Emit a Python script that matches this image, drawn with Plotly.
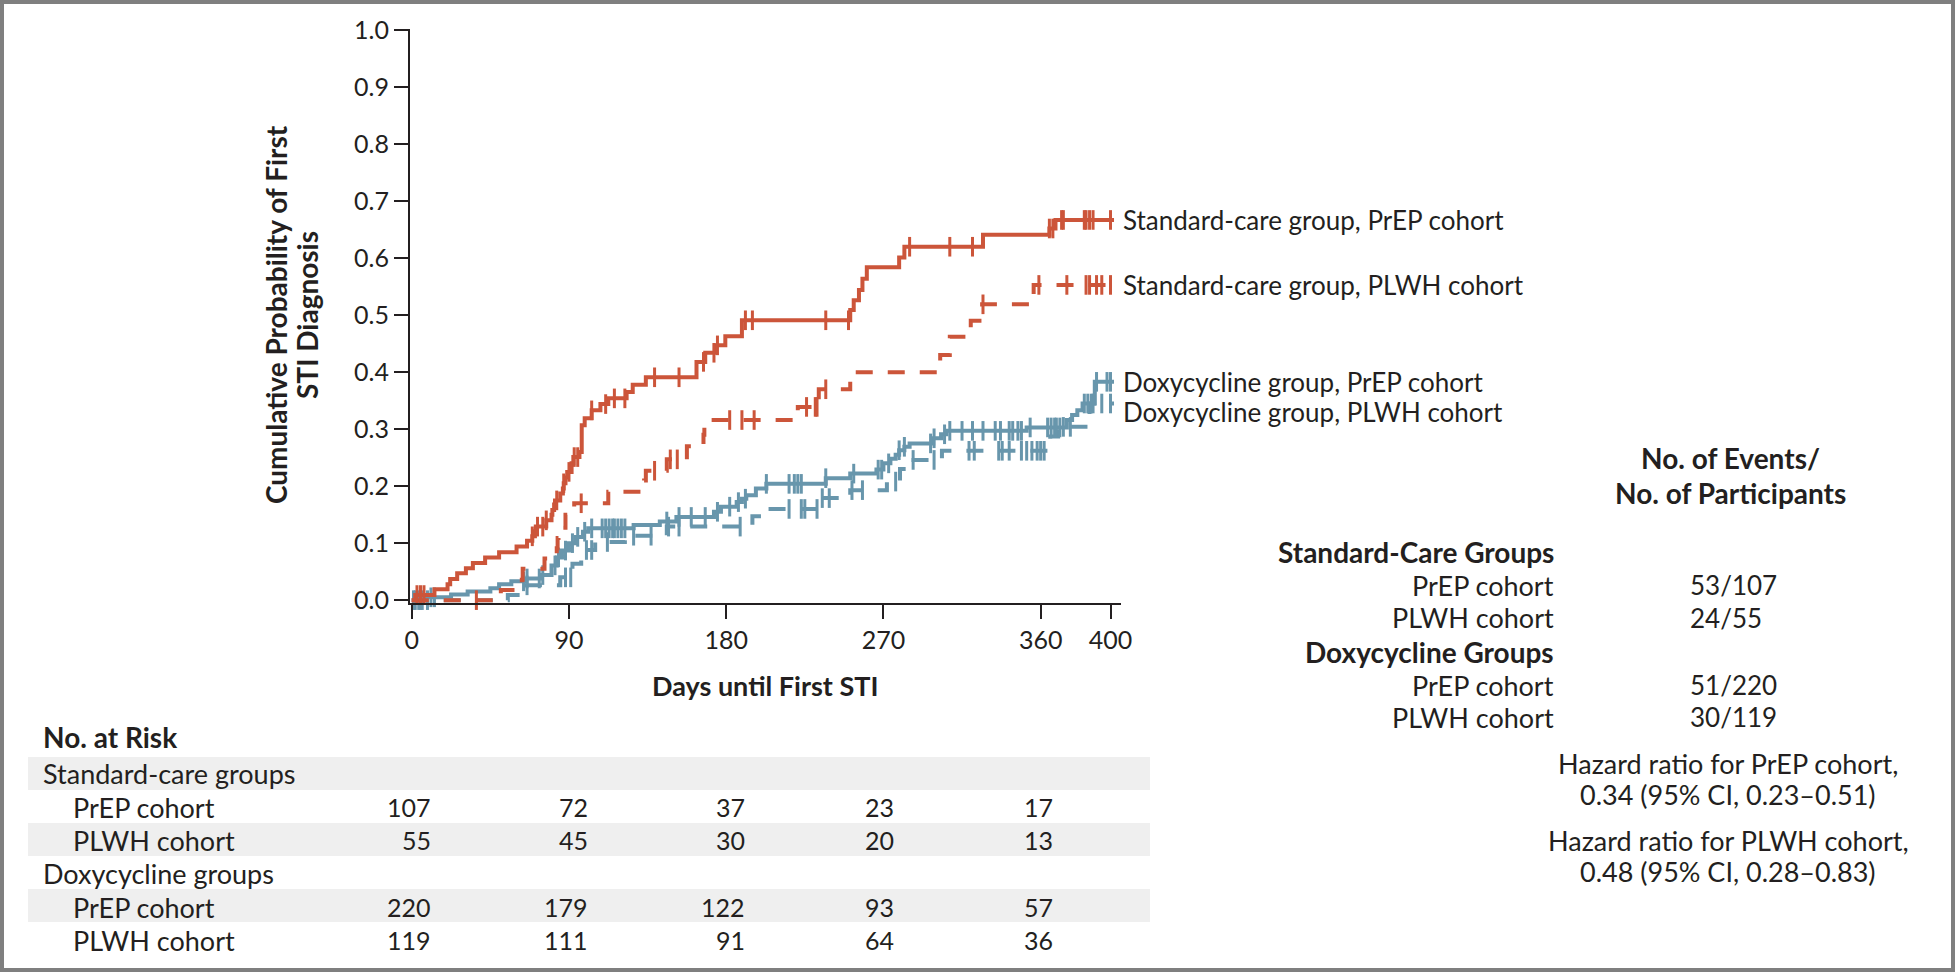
import numpy as np
import plotly.graph_objects as go

# Kaplan-Meier steps: day of each step and cumulative probability after it
sc_prep_days = [0, 2, 13, 20.5, 22, 26, 31, 35, 42, 50, 60, 66, 69, 70.5, 71, 77, 80, 80.5, 81.5, 82,
                85, 86.5, 87, 88, 89, 91.5, 92.5, 96, 97.3, 99, 103, 108, 112.5, 123, 126.5, 134, 163, 168,
                173.5, 179.5, 189, 251, 253, 256, 258, 260.5, 279, 282, 327, 365, 368.5, 402]
sc_prep_prob = [0, 0.009, 0.019, 0.028, 0.037, 0.047, 0.056, 0.065, 0.075, 0.084, 0.094, 0.104, 0.112,
                0.121, 0.129, 0.140, 0.150, 0.158, 0.168, 0.175, 0.187, 0.196, 0.205, 0.215, 0.225, 0.240,
                0.251, 0.260, 0.307, 0.319, 0.333, 0.344, 0.354, 0.365, 0.378, 0.391, 0.418, 0.434, 0.447,
                0.463, 0.491, 0.509, 0.526, 0.544, 0.564, 0.584, 0.601, 0.620, 0.641, 0.652, 0.667, 0.667]
sc_prep_cens = [3, 5, 7, 69, 72, 75, 77, 83, 87, 90, 93, 95, 103, 111, 116, 122, 139, 153, 167, 173, 175,
                191, 195, 237, 250, 285, 308, 321, 365, 367, 372, 373, 385, 386, 388, 390, 400]

sc_plwh_days = [0, 51, 63, 63.5, 76, 83, 83.5, 84, 88, 93, 112.5, 133, 134, 146, 157.5, 167, 167.5, 221,
                233, 251, 302.5, 308, 320, 326.5, 356, 402]
sc_plwh_prob = [0, 0.018, 0.036, 0.055, 0.073, 0.091, 0.109, 0.127, 0.150, 0.170, 0.190, 0.210, 0.227,
                0.247, 0.270, 0.290, 0.316, 0.339, 0.370, 0.400, 0.430, 0.462, 0.490, 0.519, 0.553, 0.553]
sc_plwh_cens = [37, 97, 139, 148, 152, 182, 189, 196, 226, 231, 232, 237, 327, 359, 375, 386, 388, 392,
                395, 400]

dx_prep_days = [0, 8, 22.5, 32, 45, 50, 57, 65.5, 73.5, 80, 83, 86, 90, 94, 98, 101, 127, 142, 151.5, 173,
                177, 186, 189, 191.5, 197, 203, 237, 251, 266, 270, 274, 277, 279, 282, 285, 298.5, 303,
                306, 352, 375, 378, 381, 384, 391, 402]
dx_prep_prob = [0, 0.005, 0.010, 0.015, 0.021, 0.028, 0.033, 0.038, 0.044, 0.061, 0.075, 0.087, 0.100,
                0.111, 0.120, 0.126, 0.132, 0.138, 0.146, 0.155, 0.164, 0.172, 0.178, 0.184, 0.196, 0.204,
                0.214, 0.222, 0.229, 0.240, 0.248, 0.255, 0.263, 0.269, 0.275, 0.284, 0.291, 0.297, 0.303,
                0.316, 0.325, 0.333, 0.345, 0.383, 0.383]
dx_prep_cens = [1, 4, 6, 11, 13, 64, 66, 73, 75, 82, 84, 88, 92, 95, 99, 103, 109, 111, 113, 115, 116, 118,
                120, 122, 146, 153, 160, 168, 175, 182, 187, 191, 203, 216, 219, 221, 223, 237, 253, 267,
                269, 273, 279, 282, 297, 299, 305, 308, 315, 321, 327, 334, 337, 342, 344, 347, 349, 354,
                364, 366, 368, 369, 371, 385, 387, 389, 392, 398, 400]

dx_plwh_days = [0, 55, 62, 62.5, 85, 92, 97, 105, 122, 146, 195, 203, 233, 251, 272, 279.5, 285, 303.5,
                365.5, 370, 388, 402]
dx_plwh_prob = [0, 0.009, 0.017, 0.026, 0.040, 0.064, 0.088, 0.102, 0.113, 0.129, 0.147, 0.160, 0.179,
                0.193, 0.208, 0.230, 0.246, 0.262, 0.287, 0.304, 0.345, 0.345]
dx_plwh_cens = [2, 5, 9, 66, 88, 91, 100, 103, 112, 127, 137, 147, 153, 188, 216, 223, 225, 232, 235, 239,
                252, 258, 277, 287, 299, 319, 322, 336, 338, 342, 349, 352, 355, 358, 360, 362, 373, 377,
                390, 395, 400]

curve_names = ["Standard-care group, PrEP cohort", "Standard-care group, PLWH cohort",
               "Doxycycline group, PrEP cohort", "Doxycycline group, PLWH cohort"]

# number at risk table
risk_days = [0, 90, 180, 270, 360]
risk_groups = ["Standard-care groups", "Doxycycline groups"]
risk_cohorts = ["PrEP cohort", "PLWH cohort"]
risk_sc_prep = [107, 72, 37, 23, 17]
risk_sc_plwh = [55, 45, 30, 20, 13]
risk_dx_prep = [220, 179, 122, 93, 57]
risk_dx_plwh = [119, 111, 91, 64, 36]

# events table
event_groups = ["Standard-Care Groups", "Doxycycline Groups"]
events = ["53/107", "24/55", "51/220", "30/119"]
hazard_text = [["Hazard ratio for PrEP cohort,", "0.34 (95% CI, 0.23–0.51)"],
               ["Hazard ratio for PLWH cohort,", "0.48 (95% CI, 0.28–0.83)"]]

RED = '#CC553A'
BLUE = '#6896AC'
INK = '#231F20'
FONT = 'Lato, Open Sans, sans-serif'

W, H = 1957, 973
L, R, T, B = 410, 836, 29, 370
PW, PH = W - L - R, H - T - B


def px(x, y):
    # page pixel -> paper coords
    return (x - L) / PW, (T + PH - y) / PH


fig = go.Figure()

curves = [(dx_plwh_days, dx_plwh_prob, dx_plwh_cens, BLUE, '17px,15px'),
          (dx_prep_days, dx_prep_prob, dx_prep_cens, BLUE, 'solid'),
          (sc_plwh_days, sc_plwh_prob, sc_plwh_cens, RED, '17px,15px'),
          (sc_prep_days, sc_prep_prob, sc_prep_cens, RED, 'solid')]

for days, prob, cens, col, dash in curves:
    fig.add_trace(go.Scatter(x=days, y=prob, mode='lines', line_shape='hv',
                             line=dict(color=col, width=4, dash=dash), hoverinfo='skip'))
    idx = np.searchsorted(days, cens, side='right') - 1
    fig.add_trace(go.Scatter(x=cens, y=np.array(prob)[idx], mode='markers', cliponaxis=False,
                             marker=dict(symbol='line-ns', size=14, line=dict(color=col, width=3)),
                             hoverinfo='skip'))

# curve labels at the end of each curve
ends = [sc_prep_prob[-1], sc_plwh_prob[-1], dx_prep_prob[-1], dx_plwh_prob[-1]]
shifts = [0, 0, 0, -8]
for name, yv, sh in zip(curve_names, ends, shifts):
    fig.add_annotation(text=name, x=px(1121, 0)[0], xref='paper', y=yv, yref='y', yshift=sh,
                       xanchor='left', yanchor='middle', showarrow=False,
                       font=dict(size=26, family=FONT, color=INK))


def note(text, x, y, anchor='center', size=27, bold=False, angle=0):
    xp, yp = px(x, y)
    if bold:
        text = f'<b>{text}</b>'
    fig.add_annotation(text=text, x=xp, y=yp, xref='paper', yref='paper', xanchor=anchor,
                       yanchor='middle', showarrow=False, textangle=angle,
                       font=dict(size=size, family=FONT, color=INK))


# axis titles
note("Cumulative Probability of First", 276, 315, size=28, bold=True, angle=-90)
note("STI Diagnosis", 307, 315, size=28, bold=True, angle=-90)
note("Days until First STI", 765, 685, bold=True)

# number at risk
note("No. at Risk", 41, 737, anchor='left', size=28, bold=True)
for y0, y1 in [(757, 790), (823, 856), (889, 922)]:
    x0p, y0p = px(28, y0)
    x1p, y1p = px(1150, y1)
    fig.add_shape(type='rect', xref='paper', yref='paper', x0=x0p, x1=x1p, y0=y0p, y1=y1p,
                  fillcolor='#EFEFEF', line_width=0, layer='below')

row_y = [773, 807, 840, 873, 907, 940]
rows = [risk_sc_prep, risk_sc_plwh, risk_dx_prep, risk_dx_plwh]
col_shift = [21, 21, 21, 13, 14]
note(risk_groups[0], 41, row_y[0], anchor='left')
note(risk_groups[1], 41, row_y[3], anchor='left')
for vals, ry, coh in zip(rows, [row_y[1], row_y[2], row_y[4], row_y[5]], risk_cohorts * 2):
    note(coh, 71, ry, anchor='left')
    for d, v, s in zip(risk_days, vals, col_shift):
        fig.add_annotation(text=str(v), x=d, xref='x', xshift=s, y=px(0, ry)[1], yref='paper',
                           xanchor='right', yanchor='middle', showarrow=False,
                           font=dict(size=25, family=FONT, color=INK))

# events table
note("No. of Events/", 1730, 458, size=28, bold=True)
note("No. of Participants", 1730, 493, size=28, bold=True)
note(event_groups[0], 1556, 552, anchor='right', size=28, bold=True)
note(event_groups[1], 1556, 652, anchor='right', size=28, bold=True)
for coh, ev, ey in zip(risk_cohorts * 2, events, [585, 618, 685, 717]):
    note(coh, 1556, ey, anchor='right')
    note(ev, 1688, ey, anchor='left', size=26)
for (l1, l2), ey in zip(hazard_text, [763, 840]):
    note(l1, 1728, ey)
    note(l2, 1728, ey + 31)

# frame around the whole figure
b0 = px(2, 2)
b1 = px(1953, 970)
fig.add_shape(type='rect', xref='paper', yref='paper', x0=b0[0], y0=b0[1], x1=b1[0], y1=b1[1],
              line=dict(color='#7F7F7F', width=4))

fig.update_layout(
    width=W, height=H, margin=dict(l=L, r=R, t=T, b=B),
    paper_bgcolor='white', plot_bgcolor='white', showlegend=False,
    font=dict(family=FONT, color=INK),
    xaxis=dict(range=[-1, 406], tickvals=[0, 90, 180, 270, 360, 400], ticks='outside', ticklen=14,
               tickwidth=2, tickcolor=INK, showline=True, linewidth=2, linecolor=INK,
               showgrid=False, zeroline=False, tickfont=dict(size=25)),
    yaxis=dict(range=[-0.005, 1.002], tickvals=[i / 10 for i in range(11)], tickformat='.1f',
               ticks='outside', ticklen=14, tickwidth=2, tickcolor=INK, showline=True, linewidth=2,
               linecolor=INK, showgrid=False, zeroline=False, tickfont=dict(size=25)),
)

# drop the browser's default body margin so the page lines up with the frame
fig.write_html("out.html", config={'displayModeBar': False},
               post_script="document.body.style.margin='0';")
